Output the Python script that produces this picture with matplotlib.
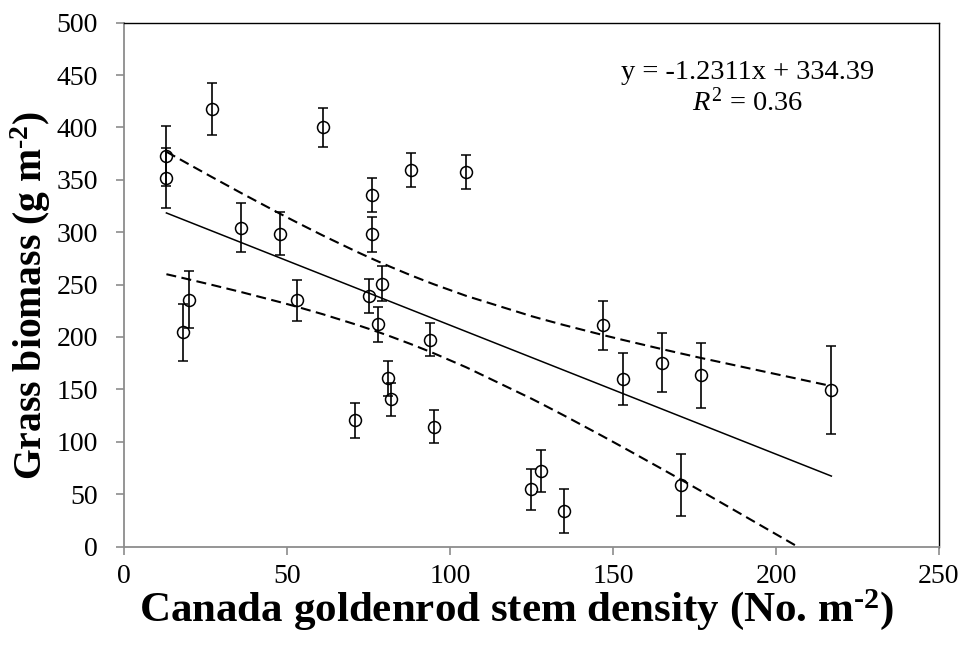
import numpy as np
import matplotlib
matplotlib.use("Agg")
import matplotlib.pyplot as plt

# ---- data ----
stem_density = [13, 13, 27, 61, 88, 105, 76, 76, 36, 48,
                79, 75, 20, 18, 53, 78, 94, 81, 82, 71,
                95, 128, 125, 135, 171, 153, 147, 165, 177, 217]
grass_biomass = [373, 352, 417.5, 400, 359.5, 357.5, 335.5, 298, 304.5, 298.5,
                 251, 239, 235.7, 204.5, 235, 212, 197.5, 160.5, 140.5, 120.5,
                 114.5, 72, 54.5, 33.5, 58.5, 160, 211, 175.5, 163.5, 149.5]
biomass_se = [28.5, 28.5, 25, 18.5, 16, 16.5, 16.5, 16.5, 23, 20.5,
              16.3, 16.5, 27, 27, 19.5, 16.5, 16, 16.5, 16, 16.7,
              16, 19.7, 19.4, 21, 29.5, 24.5, 23.5, 28, 31, 42]

slope = -1.2311
intercept = 334.39
r_squared = 0.36
t_crit = 2.048  # Student t, 95 %, df = n - 2

x_ticks = [0, 50, 100, 150, 200, 250]
y_ticks = [0, 50, 100, 150, 200, 250, 300, 350, 400, 450, 500]

plt.rcParams['font.family'] = ['Liberation Serif', 'DejaVu Serif']
plt.rcParams['mathtext.fontset'] = 'custom'
plt.rcParams['mathtext.rm'] = 'Liberation Serif'
plt.rcParams['mathtext.it'] = 'Liberation Serif:italic'
plt.rcParams['mathtext.bf'] = 'Liberation Serif:bold'

fig = plt.figure(figsize=(9.63, 6.48), dpi=100)
ax = fig.add_axes([0.1288, 0.1566, 0.975 - 0.1288, 0.965 - 0.1566])

x = np.array(stem_density, dtype=float)
y = np.array(grass_biomass, dtype=float)

# regression line and 95% confidence band of the mean
xs = np.unique(x)
yfit = intercept + slope * xs
resid = y - (intercept + slope * x)
n = len(x)
s = np.sqrt(np.sum(resid ** 2) / (n - 2))
sxx = np.sum((x - x.mean()) ** 2)
half = t_crit * s * np.sqrt(1.0 / n + (xs - x.mean()) ** 2 / sxx)

ax.plot(xs, yfit, color='black', lw=1.1, zorder=2)
ax.plot(xs, yfit + half, color='black', lw=1.5, linestyle=(0, (4.8, 2.6)), zorder=2)
ax.plot(xs, yfit - half, color='black', lw=1.5, linestyle=(0, (4.8, 2.6)), zorder=2)

ax.errorbar(x, y, yerr=biomass_se, fmt='o', mfc='none', mec='black', mew=1.1,
            ms=8.6, ecolor='black', elinewidth=1.2, capsize=3.4, capthick=1.2,
            zorder=3)

ax.set_xlim(0, 250)
ax.set_ylim(0, 500)
ax.set_xticks(x_ticks)
ax.set_yticks(y_ticks)

gray = '#8c8c8c'
for side in ('left', 'bottom'):
    ax.spines[side].set_color(gray)
    ax.spines[side].set_linewidth(1.3)
for side in ('top', 'right'):
    ax.spines[side].set_color('black')
    ax.spines[side].set_linewidth(1.0)

ax.tick_params(axis='both', direction='out', length=5.8, width=1.2, color=gray,
               labelsize=20, labelcolor='black')
ax.tick_params(axis='y', pad=13)
ax.tick_params(axis='x', pad=7)

ax.set_xlabel('Canada goldenrod stem density (No. m$^{\\mathbf{\u20102}}$)',
              fontsize=31, fontweight='bold')
ax.xaxis.set_label_coords(0.482, -0.078)
ax.set_ylabel('Grass biomass (g m$^{\\mathbf{\u20102}}$)',
              fontsize=28.5, fontweight='bold')
ax.yaxis.set_label_coords(-0.087, 0.479)

ax.text(0.765, 0.892, 'y = %.4fx + %.2f' % (slope, intercept), transform=ax.transAxes,
        ha='center', va='baseline', fontsize=20.5)
ax.text(0.765, 0.833, '$R^2$ = %.2f' % r_squared, transform=ax.transAxes,
        ha='center', va='baseline', fontsize=20.5)

fig.savefig('out.png', dpi=100)
